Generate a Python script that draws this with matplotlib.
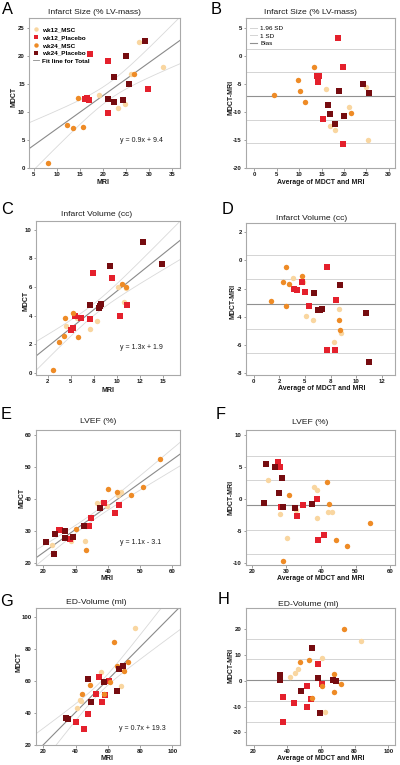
import numpy as np
import matplotlib
matplotlib.use('Agg')
import matplotlib.pyplot as plt
from matplotlib.lines import Line2D

plt.rcParams['font.family'] = ['Liberation Sans', 'DejaVu Sans']

W, H = 400, 765
fig = plt.figure(figsize=(W / 100, H / 100), dpi=100)

groups = ['wk12_MSC', 'wk12_Placebo', 'wk24_MSC', 'wk24_Placebo']
group_colors = ['#F9D6A0', '#E4202C', '#EE8B26', '#760C10']
group_markers = ['o', 's', 'o', 's']

# ---------------- Panel A: Infarct size scatter (MRI, MDCT) ----------------
a_mri = [[27.9, 19.1, 23.2, 24.7, 26.1, 33.0],
         [17.2, 21.0, 16.2, 16.6, 17.1, 21.2, 29.8],
         [14.6, 12.3, 13.5, 15.8, 8.1, 26.8],
         [29.2, 25.0, 22.5, 25.6, 21.0, 22.3, 24.3]]
a_mdct = [[22.4, 13.0, 10.7, 11.4, 16.7, 18.0],
          [20.3, 19.1, 12.3, 12.5, 12.0, 9.7, 14.0],
          [12.5, 7.6, 7.1, 7.3, 0.9, 16.7],
          [22.6, 20.0, 16.1, 15.0, 12.2, 11.8, 12.1]]
# ---------------- Panel B: Infarct size Bland-Altman ----------------
b_avg = [[15.9, 21.2, 16.8, 17.9, 24.9, 25.3],
         [18.6, 19.9, 14.0, 14.5, 14.3, 15.3, 19.7],
         [13.4, 9.7, 10.2, 4.5, 11.4, 21.6],
         [19.0, 24.3, 16.4, 16.8, 20.1, 18.0, 25.7]]
b_diff = [[-6.0, -9.2, -12.6, -13.2, -5.6, -15.1],
          [3.2, -2.0, -3.6, -3.7, -4.7, -11.4, -15.8],
          [-2.0, -4.4, -6.4, -7.0, -8.3, -10.3],
          [-6.4, -5.1, -8.8, -10.4, -10.7, -12.2, -6.6]]
b_bias, b_sd = -7.2, 4.3

# ---------------- Panel C: Infarct volume scatter ----------------
c_mri = [[10.06, 10.79, 4.45, 7.87, 7.07, 5.63, 10.95],
         [7.36, 9.45, 11.11, 10.32, 5.49, 6.10, 7.04, 5.20, 5.02],
         [10.53, 10.93, 5.24, 4.37, 4.30, 5.78, 3.69, 3.11],
         [12.84, 14.86, 9.27, 7.04, 8.30, 8.16, 8.08]]
c_mdct = [[6.00, 4.98, 3.27, 3.59, 3.09, 3.85, 5.90],
          [6.94, 6.61, 4.75, 3.96, 3.94, 3.82, 3.73, 3.13, 2.97],
          [6.20, 5.97, 4.15, 3.85, 2.58, 2.47, 2.12, 0.23],
          [9.15, 7.60, 7.49, 4.75, 4.82, 4.65, 4.54]]
# ---------------- Panel D: Infarct volume Bland-Altman ----------------
d_avg = [[3.87, 4.86, 8.36, 5.10, 5.77, 8.53, 7.88],
         [4.69, 3.97, 4.21, 4.99, 7.17, 8.02, 5.40, 7.98, 7.17],
         [3.16, 4.72, 2.89, 3.46, 1.73, 3.16, 8.36, 8.39],
         [5.91, 8.39, 6.28, 6.45, 6.62, 11.00, 11.21]]
d_diff = [[-1.22, -1.55, -3.44, -3.93, -4.26, -5.12, -5.75],
          [-1.52, -2.00, -2.11, -2.26, -0.48, -2.78, -3.27, -6.37, -6.32],
          [-0.48, -1.10, -1.52, -1.66, -2.85, -3.27, -4.26, -4.90],
          [-2.30, -1.76, -3.51, -3.51, -3.44, -3.70, -7.20]]
d_bias, d_sd = -3.1, 1.78

# ---------------- Panel E: LVEF scatter ----------------
e_mri = [[22.6, 36.7, 38.1, 33.3, 43.2, 44.2, 28.5, 39.6, 32.9],
         [24.7, 25.3, 38.7, 34.9, 28.4, 34.1, 43.4, 42.1],
         [56.1, 51.0, 47.3, 40.2, 42.7, 30.1, 33.1],
         [20.8, 23.7, 26.6, 26.7, 23.3, 37.6, 29.1, 32.7]]
e_mdct = [[25.8, 38.9, 39.1, 31.7, 41.2, 42.2, 26.8, 37.9, 27.1],
          [30.4, 30.5, 39.0, 34.3, 27.5, 31.7, 38.1, 35.8],
          [52.6, 44.0, 41.25, 43.1, 42.2, 30.8, 24.0],
          [26.7, 29.2, 30.1, 28.0, 22.9, 37.2, 28.1, 31.7]]
# ---------------- Panel F: LVEF Bland-Altman ----------------
f_avg = [[24.7, 38.0, 38.9, 32.7, 42.0, 43.3, 28.1, 38.9, 30.3],
         [27.6, 28.1, 38.9, 34.8, 28.3, 33.0, 40.8, 39.2],
         [41.6, 30.8, 42.4, 54.1, 44.3, 47.4, 28.9],
         [24.2, 26.8, 28.7, 27.8, 23.5, 37.5, 29.1, 32.5]]
f_diff = [[2.97, 1.87, 1.40, -1.67, -1.98, -1.98, -2.30, -2.86, -6.0],
          [5.9, 5.0, 0.0, -0.83, -1.15, -2.6, -5.6, -6.4],
          [2.76, 0.63, -0.68, -3.7, -6.4, -7.3, -9.6],
          [5.52, 5.1, 3.4, 1.04, -0.63, -0.68, -1.25, -1.3]]
f_bias, f_sd = -0.9, 3.9

# ---------------- Panel G: ED-volume scatter ----------------
g_mri = [[76.8, 55.8, 42.7, 43.4, 41.1, 68.0],
         [54.7, 61.0, 52.7, 40.1, 58.0, 47.5, 56.2, 45.4],
         [64.0, 43.8, 48.9, 66.0, 72.7, 61.3, 70.2, 57.6],
         [47.9, 34.4, 35.5, 57.6, 67.0, 69.2, 49.8, 65.5]]
g_mdct = [[93.1, 65.3, 48.2, 47.2, 42.8, 57.0],
          [62.2, 60.2, 51.5, 34.6, 51.0, 39.6, 46.9, 29.8],
          [84.3, 52.0, 57.2, 69.5, 71.8, 59.5, 66.4, 51.5],
          [61.4, 37.0, 36.2, 59.1, 67.5, 69.3, 46.7, 53.8]]
# ---------------- Panel H: ED-volume Bland-Altman ----------------
h_avg = [[84.1, 60.8, 46.1, 44.9, 41.6, 62.4],
         [58.2, 60.6, 51.8, 37.3, 54.4, 43.9, 51.8, 37.6],
         [73.7, 47.8, 52.7, 67.5, 72.0, 60.4, 67.8, 54.5],
         [54.7, 35.7, 35.7, 58.0, 67.1, 69.0, 48.2, 59.6]]
h_diff = [[15.5, 8.7, 4.6, 2.9, 1.5, -12.0],
          [6.5, -1.2, -1.9, -6.4, -7.2, -8.5, -10.3, -16.1],
          [19.9, 7.4, 8.0, 2.8, -1.4, -2.1, -4.2, -6.6],
          [12.75, 2.3, 0.3, 1.1, 0.3, -0.1, -3.9, -12.4]]
h_bias, h_sd = 0.2, 8.2

titles = ['Infarct Size (% LV-mass)', 'Infarct Size (% LV-mass)',
          'Infarct Volume (cc)', 'Infarct Volume (cc)',
          'LVEF (%)', 'LVEF (%)', 'ED-Volume (ml)', 'ED-Volume (ml)']
fit_labels = ['y = 0.9x + 9.4', 'y = 1.3x + 1.9', 'y = 1.1x - 3.1', 'y = 0.7x + 19.3']

FRAME = '#A9A9A9'
TXT = '#1a1a1a'


def px_ax(l, t, r, b):
    return fig.add_axes([l / W, 1 - b / H, (r - l) / W, (b - t) / H])


def ftext(x, y, s, **kw):
    fig.text(x / W, 1 - y / H, s, **kw)


def style(ax, xlim, ylim, xt, yt, xtl=None, ytl=None):
    ax.set_xlim(*xlim)
    ax.set_ylim(*ylim)
    ax.set_xticks(xt)
    ax.set_yticks(yt)
    ax.set_xticklabels(xtl if xtl is not None else [f'{v:g}' for v in xt])
    ax.set_yticklabels(ytl if ytl is not None else [f'{v:g}' for v in yt])
    for s in ax.spines.values():
        s.set_color(FRAME)
        s.set_linewidth(0.8)
    ax.tick_params(direction='out', length=1.8, width=0.5, color='#777777',
                   labelsize=4.3, pad=1.2, labelcolor=TXT)
    for lbl in ax.get_xticklabels() + ax.get_yticklabels():
        lbl.set_fontweight('bold')


def draw_points(ax, xs, ys, ms=3.9):
    for gx, gy, c, m in zip(xs, ys, group_colors, group_markers):
        ax.plot(gx, gy, linestyle='none', marker=m, color=c, markersize=ms,
                markeredgewidth=0, zorder=3)


def draw_fit(ax, xs, ys, xlim):
    x = np.concatenate([np.asarray(v, float) for v in xs])
    y = np.concatenate([np.asarray(v, float) for v in ys])
    n = len(x)
    b1, b0 = np.polyfit(x, y, 1)
    res = y - (b0 + b1 * x)
    s = np.sqrt(np.sum(res ** 2) / (n - 2))
    sxx = np.sum((x - x.mean()) ** 2)
    df = n - 2
    t = 1.96 + 2.4 / df
    xx = np.linspace(xlim[0], xlim[1], 200)
    yy = b0 + b1 * xx
    half = t * s * np.sqrt(1 / n + (xx - x.mean()) ** 2 / sxx)
    ax.plot(xx, yy + half, color='#D9D9D9', lw=0.6, zorder=1)
    ax.plot(xx, yy - half, color='#D9D9D9', lw=0.6, zorder=1)
    ax.plot(xx, yy, color='#8A8A8A', lw=0.8, zorder=2)


def draw_ba_lines(ax, bias, sd):
    for k in (1.96, 1.0, -1.0, -1.96):
        ax.axhline(bias + k * sd, color='#D4D4D4', lw=0.7, zorder=1)
    ax.axhline(bias, color='#909090', lw=0.8, zorder=1)


# axes boxes in pixels (left, top, right, bottom)
boxes = [(29, 18, 180, 168), (246, 18, 395, 168),
         (36, 221, 180, 375), (246, 223, 395, 375),
         (36, 430, 180, 564.5), (246, 430, 395, 564.5),
         (36, 608, 180, 745), (246, 608, 395, 745)]
axs = [px_ax(*b) for b in boxes]

# ---- A
ax = axs[0]
style(ax, (4.0, 36.7), (-0.05, 26.7), [5, 10, 15, 20, 25, 30, 35], [0, 5, 10, 15, 20, 25])
draw_fit(ax, a_mri, a_mdct, (4.0, 36.7))
draw_points(ax, a_mri, a_mdct)
handles = [Line2D([], [], linestyle='none', marker=m, color=c, markersize=3.2, markeredgewidth=0)
           for c, m in zip(group_colors, group_markers)]
handles.append(Line2D([], [], color='#8A8A8A', lw=0.6))
ax.legend(handles, groups + ['Fit line for Total'], loc='upper left',
          bbox_to_anchor=(0.0, 0.97), frameon=False, handlelength=0.9,
          handletextpad=0.4, labelspacing=0.36, borderaxespad=0.3,
          prop={'weight': 'bold', 'size': 4.6})

# ---- B
ax = axs[1]
style(ax, (-1.85, 31.4), (-20.05, 6.7), [0, 5, 10, 15, 20, 25, 30], [-20, -15, -10, -5, 0, 5])
draw_ba_lines(ax, b_bias, b_sd)
draw_points(ax, b_avg, b_diff)
bh = [Line2D([], [], color='#D4D4D4', lw=0.7), Line2D([], [], color='#D4D4D4', lw=0.7),
      Line2D([], [], color='#909090', lw=0.8)]
ax.legend(bh, ['1.96 SD', '1 SD', 'Bias'], loc='upper left', bbox_to_anchor=(0.0, 0.98),
          frameon=False, handlelength=1.0, handletextpad=0.5, labelspacing=0.35,
          borderaxespad=0.3, prop={'size': 4.6})

# ---- C
ax = axs[2]
style(ax, (1.24, 16.8), (-0.15, 10.6), [2.5, 5, 7.5, 10, 12.5, 15], [0, 2, 4, 6, 8, 10],
      xtl=['2', '5', '8', '10', '12', '15'])
draw_fit(ax, c_mri, c_mdct, (1.24, 16.8))
draw_points(ax, c_mri, c_mdct)

# ---- D
ax = axs[3]
style(ax, (-0.74, 13.78), (-8.12, 2.64), [0, 2.5, 5, 7.5, 10, 12.5], [-8, -6, -4, -2, 0, 2],
      xtl=['0', '2', '5', '8', '10', '12'])
draw_ba_lines(ax, d_bias, d_sd)
draw_points(ax, d_avg, d_diff)

# ---- E
ax = axs[4]
style(ax, (17.7, 62.4), (19.6, 61.7), [20, 30, 40, 50, 60], [20, 30, 40, 50, 60])
draw_fit(ax, e_mri, e_mdct, (17.7, 62.4))
draw_points(ax, e_mri, e_mdct)

# ---- F
ax = axs[5]
style(ax, (18.3, 61.4), (-10.2, 10.83), [20, 30, 40, 50, 60], [-10, -5, 0, 5, 10])
draw_ba_lines(ax, f_bias, f_sd)
draw_points(ax, f_avg, f_diff)

# ---- G
ax = axs[6]
style(ax, (15.5, 104.8), (20.0, 105.4), [20, 40, 60, 80, 100], [20, 40, 60, 80, 100])
draw_fit(ax, g_mri, g_mdct, (15.5, 104.8))
draw_points(ax, g_mri, g_mdct)

# ---- H
ax = axs[7]
style(ax, (15.5, 104.0), (-24.9, 28.2), [20, 40, 60, 80, 100], [-20, -10, 0, 10, 20])
draw_ba_lines(ax, h_bias, h_sd)
draw_points(ax, h_avg, h_diff)

# ---- figure texts
letters = ['A', 'B', 'C', 'D', 'E', 'F', 'G', 'H']
letter_pos = [(2, 2), (211, 2), (1, 202), (222, 202), (1, 407), (216, 407), (0, 594), (218, 592)]
for s, (x, y) in zip(letters, letter_pos):
    ftext(x, y, s, fontsize=11.8, ha='left', va='top', color='black')

title_pos = [(94, 13), (310, 13), (97, 214), (312, 218), (98, 421), (310, 422), (96, 603), (308, 604)]
for s, (x, y) in zip(titles, title_pos):
    ftext(x, y, s, fontsize=6.1, ha='center', va='center', color=TXT)

xlab_pos = [(103, 183), (321, 183), (108, 390), (322, 388), (107, 579), (321, 579), (107, 759), (321, 759)]
for i, (x, y) in enumerate(xlab_pos):
    s = 'MRI' if i % 2 == 0 else 'Average of MDCT and MRI'
    ftext(x, y, s, fontsize=5.0, fontweight='bold', ha='center', va='center', color=TXT)

ylab_pos = [(14, 97), (231, 97), (26, 301), (233, 301), (22, 498), (231, 497), (19, 662), (231, 665)]
for i, (x, y) in enumerate(ylab_pos):
    s = 'MDCT' if i % 2 == 0 else 'MDCT-MRI'
    ftext(x, y, s, fontsize=5.0, fontweight='bold', ha='center', va='center',
          rotation=90, color=TXT)

fit_pos = [(120, 141), (120, 348), (120, 542), (119, 729)]
for s, (x, y) in zip(fit_labels, fit_pos):
    ftext(x, y, s, fontsize=5.0, ha='left', va='center', color=TXT)

fig.savefig('out.png', dpi=100)
